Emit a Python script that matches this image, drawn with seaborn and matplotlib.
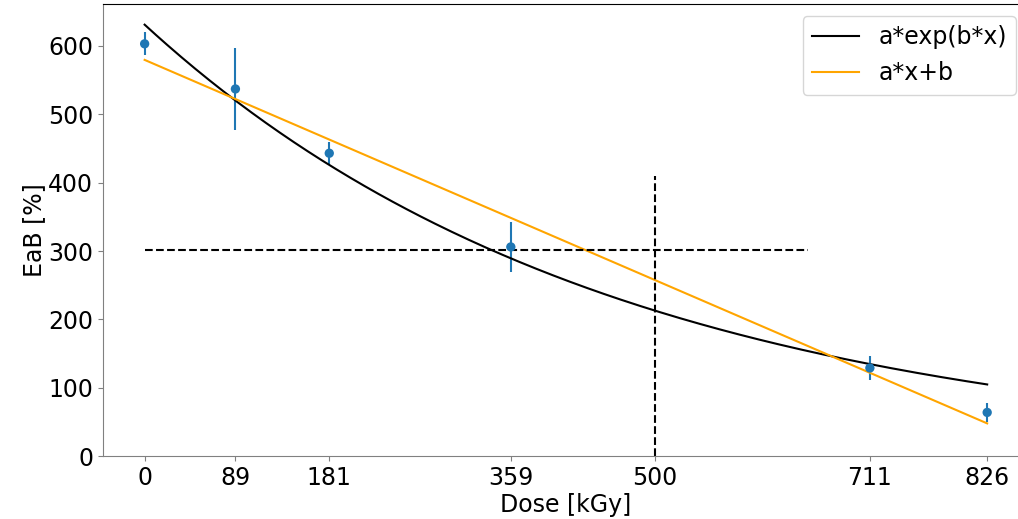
import numpy as np
import pandas as pd
import matplotlib
matplotlib.use("Agg")
import matplotlib.pyplot as plt
import seaborn as sns

# measured points
dose     = [0, 89, 181, 359, 711, 826]
eab      = [603, 537, 443, 306, 129, 64]
eab_err  = [17, 60, 17, 37, 18, 14]

# fit parameters
exp_a, exp_b = 631.0, -0.002172
lin_a, lin_b = -0.6435, 579.5

# guide lines
h_level, h_x = 301, [0, 650]
v_level, v_y = 500, [0, 410]

plt.rcParams["font.size"] = 17

df = pd.DataFrame({"dose": dose, "eab": eab, "err": eab_err})

x_fit = np.linspace(min(dose), max(dose), 300)
fits = pd.DataFrame({
    "x": x_fit,
    "exp": exp_a * np.exp(exp_b * x_fit),
    "lin": lin_a * x_fit + lin_b,
})

fig, ax = plt.subplots(figsize=(10.18, 5.19), dpi=100)
# right edge runs a little past the canvas, as in the original export
fig.subplots_adjust(left=0.101, right=1.0098, bottom=0.121, top=0.992)

ax.errorbar(df["dose"], df["eab"], yerr=df["err"], fmt="none",
            ecolor="#1f77b4", elinewidth=1.5)
sns.scatterplot(data=df, x="dose", y="eab", ax=ax, color="#1f77b4",
                s=45, edgecolor="none", zorder=3)

sns.lineplot(data=fits, x="x", y="exp", ax=ax, color="black", lw=1.5,
             label="a*exp(b*x)")
sns.lineplot(data=fits, x="x", y="lin", ax=ax, color="orange", lw=1.5,
             label="a*x+b")

ax.plot(h_x, [h_level, h_level], "k--", lw=1.5)
ax.plot([v_level, v_level], v_y, "k--", lw=1.5)

ax.set_xticks(dose + [v_level])
ax.set_xlim(-41, 866)
ax.set_ylim(0, 661)
ax.set_xlabel("Dose [kGy]", labelpad=2)
ax.set_ylabel("EaB [%]", labelpad=1)
ax.legend(loc="upper right")

for side in ["left", "bottom"]:
    ax.spines[side].set_color("grey")
ax.tick_params(color="grey")

plt.savefig("out.png", dpi=100)
